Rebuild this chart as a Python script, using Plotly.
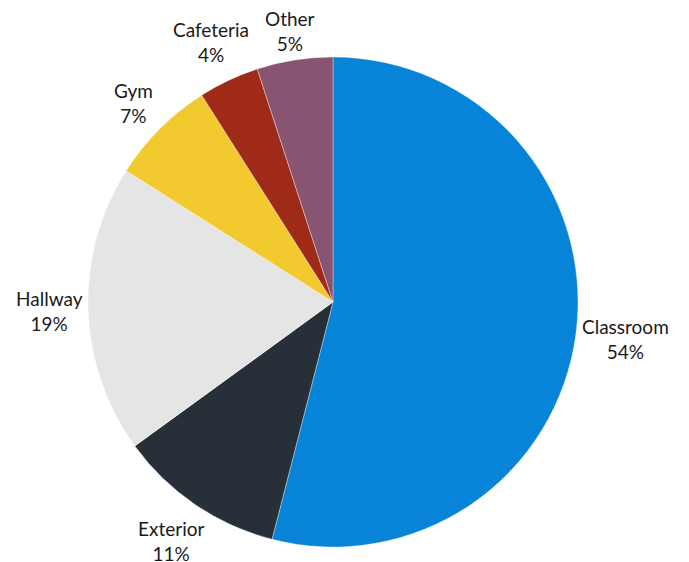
import numpy as np
import plotly.graph_objects as go

locations = ["Classroom", "Exterior", "Hallway", "Gym", "Cafeteria", "Other"]
shares = [54, 11, 19, 7, 4, 5]
colors = ["#0784D8", "#272F39", "#E5E5E5", "#F2CA30", "#9E2A17", "#875471"]

# figure size / plot area (page has an 8px body margin)
W, H = 681, 580
L, T, PW, PH = 0, 49, 650, 490
R = min(PW, PH) / 2
cx, cy = L + PW / 2, T + PH / 2

fig = go.Figure(
    go.Pie(
        labels=locations,
        values=shares,
        sort=False,
        direction="clockwise",
        rotation=0,
        marker=dict(colors=colors, line=dict(color="rgba(255,255,255,0.6)", width=0.6)),
        textinfo="none",
        hoverinfo="label+percent",
        showlegend=False,
        domain=dict(x=[0, 1], y=[0, 1]),
    )
)

# outside labels: pushed out along each slice's mid angle, far enough
# that the label box clears the rim (rough width from character count)
FS = 19
gap, half_h, half_char = 4, 22, 4.8
vals = np.array(shares, dtype=float)
frac = vals / vals.sum()
mid = (np.cumsum(frac) - frac / 2) * 2 * np.pi
for name, f, a in zip(locations, frac, mid):
    pct = f"{f * 100:.0f}%"
    vx, vy = np.sin(a), -np.cos(a)
    half_w = half_char * max(len(name), len(pct), 5)
    dist = R + gap + abs(vx) * half_w + abs(vy) * half_h
    fx = cx + dist * vx
    fy = cy + dist * vy
    fig.add_annotation(
        x=(fx - L) / PW,
        y=1 - (fy - T) / PH,
        xref="paper",
        yref="paper",
        text=f"{name}<br>{pct}",
        showarrow=False,
        xanchor="center",
        yanchor="middle",
        align="center",
        font=dict(family="Lato", size=FS, color="#1a1a1a"),
    )

fig.update_layout(
    width=W,
    height=H,
    margin=dict(l=L, r=W - L - PW, t=T, b=H - T - PH, autoexpand=False),
    paper_bgcolor="white",
    plot_bgcolor="white",
)

fig.write_html("out.html")
